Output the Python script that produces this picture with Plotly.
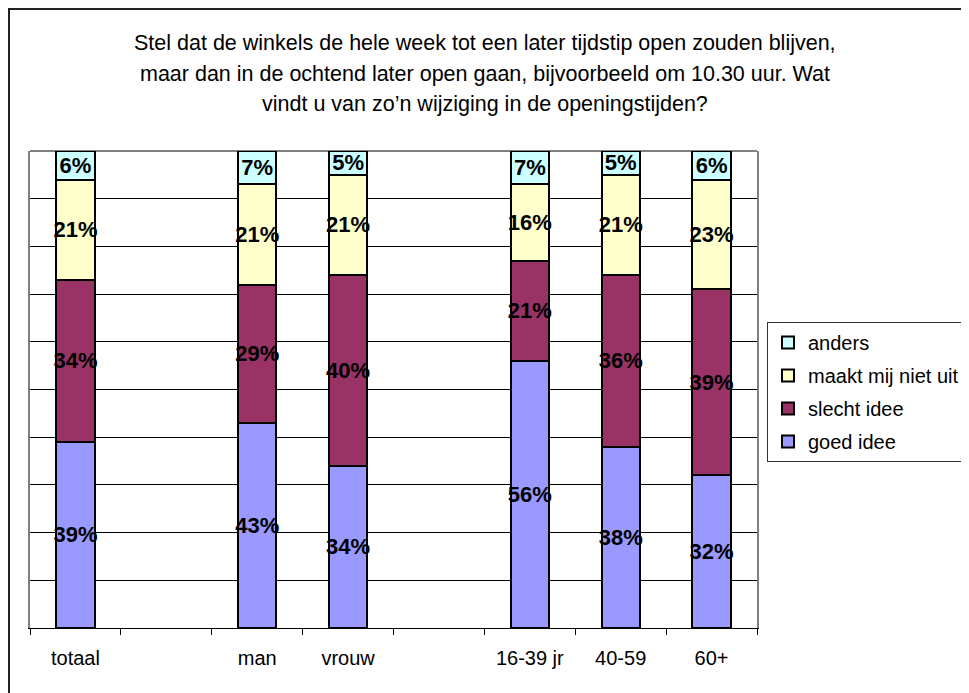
import plotly.graph_objects as go

categories = ["totaal", " ", "man", "vrouw", "  ", "16-39 jr", "40-59", "60+"]
goed_idee = [39, None, 43, 34, None, 56, 38, 32]
slecht_idee = [34, None, 29, 40, None, 21, 36, 39]
maakt_niet_uit = [21, None, 21, 21, None, 16, 21, 23]
anders = [6, None, 7, 5, None, 7, 5, 6]

series = [
    ("goed idee", goed_idee, "#9999FF"),
    ("slecht idee", slecht_idee, "#993366"),
    ("maakt mij niet uit", maakt_niet_uit, "#FFFFCC"),
    ("anders", anders, "#CCFFFF"),
]

title_lines = [
    "Stel dat de winkels de hele week tot een later tijdstip open zouden blijven,",
    "maar dan in de ochtend later open gaan, bijvoorbeeld om 10.30 uur. Wat",
    "vindt u van zo’n wijziging in de openingstijden?",
]

FONT = "Arial, Liberation Sans, sans-serif"
OFF = 8  # page body margin
W, H = 961, 685
L, T = 30 - OFF, 151 - OFF
R = W - (757 - OFF)
B = H - (628 - OFF)
PW, PH = W - L - R, H - T - B

def px_x(x):
    return (x - OFF - L) / PW

def px_y(y):
    return (H - B - (y - OFF)) / PH

fig = go.Figure()
n = len(series)
for i, (name, vals, color) in enumerate(series):
    fig.add_trace(go.Bar(
        x=categories, y=vals, name=name, legendgroup=name,
        legendrank=n - i,
        marker=dict(color=color, line=dict(color="black", width=2)),
        width=0.42,
        text=[f"<b>{v}%</b>" if v is not None else "" for v in vals],
        textposition="inside", insidetextanchor="middle", textangle=0,
        constraintext="none",
        insidetextfont=dict(family=FONT, size=22, color="black"),
        hoverinfo="skip",
    ))

annotations = []
for line, py in zip(title_lines, [43, 74, 104]):
    annotations.append(dict(
        text=line, xref="paper", yref="paper", x=px_x(484.5), y=px_y(py),
        xanchor="center", yanchor="middle", showarrow=False,
        font=dict(family=FONT, size=21.5, color="black"),
    ))

shapes = [
    dict(type="line", xref="paper", yref="paper", x0=0, x1=1, y0=1, y1=1,
         line=dict(color="#808080", width=2), layer="below"),
    dict(type="rect", xref="paper", yref="paper",
         x0=px_x(OFF + 1), x1=px_x(1100), y0=px_y(OFF + 1), y1=px_y(760),
         line=dict(color="#222222", width=2), layer="below"),
]

fig.update_layout(
    width=W, height=H,
    margin=dict(l=L, r=R, t=T, b=B, autoexpand=False),
    paper_bgcolor="white", plot_bgcolor="white",
    barmode="stack",
    font=dict(family=FONT, size=20, color="black"),
    showlegend=True,
    legend=dict(
        x=px_x(767), y=px_y(322), xanchor="left", yanchor="top",
        traceorder="grouped", bordercolor="#333333", borderwidth=1,
        bgcolor="white", font=dict(family=FONT, size=20, color="black"),
        tracegroupgap=4,
    ),
    xaxis=dict(
        type="category", showgrid=False, showline=True, linecolor="black",
        linewidth=1, ticks="outside", tickson="boundaries", ticklen=6,
        tickcolor="black", tickwidth=1, zeroline=False,
        ticklabelstandoff=12,
        tickfont=dict(family=FONT, size=20, color="black"),
    ),
    yaxis=dict(
        range=[0, 100], tickvals=[10, 20, 30, 40, 50, 60, 70, 80, 90],
        showticklabels=False, showgrid=True, gridcolor="black", gridwidth=1,
        zeroline=False, showline=True, linecolor="#808080", linewidth=2,
        mirror=True, ticks="",
    ),
    annotations=annotations,
    shapes=shapes,
)

fig.write_html("out.html")
